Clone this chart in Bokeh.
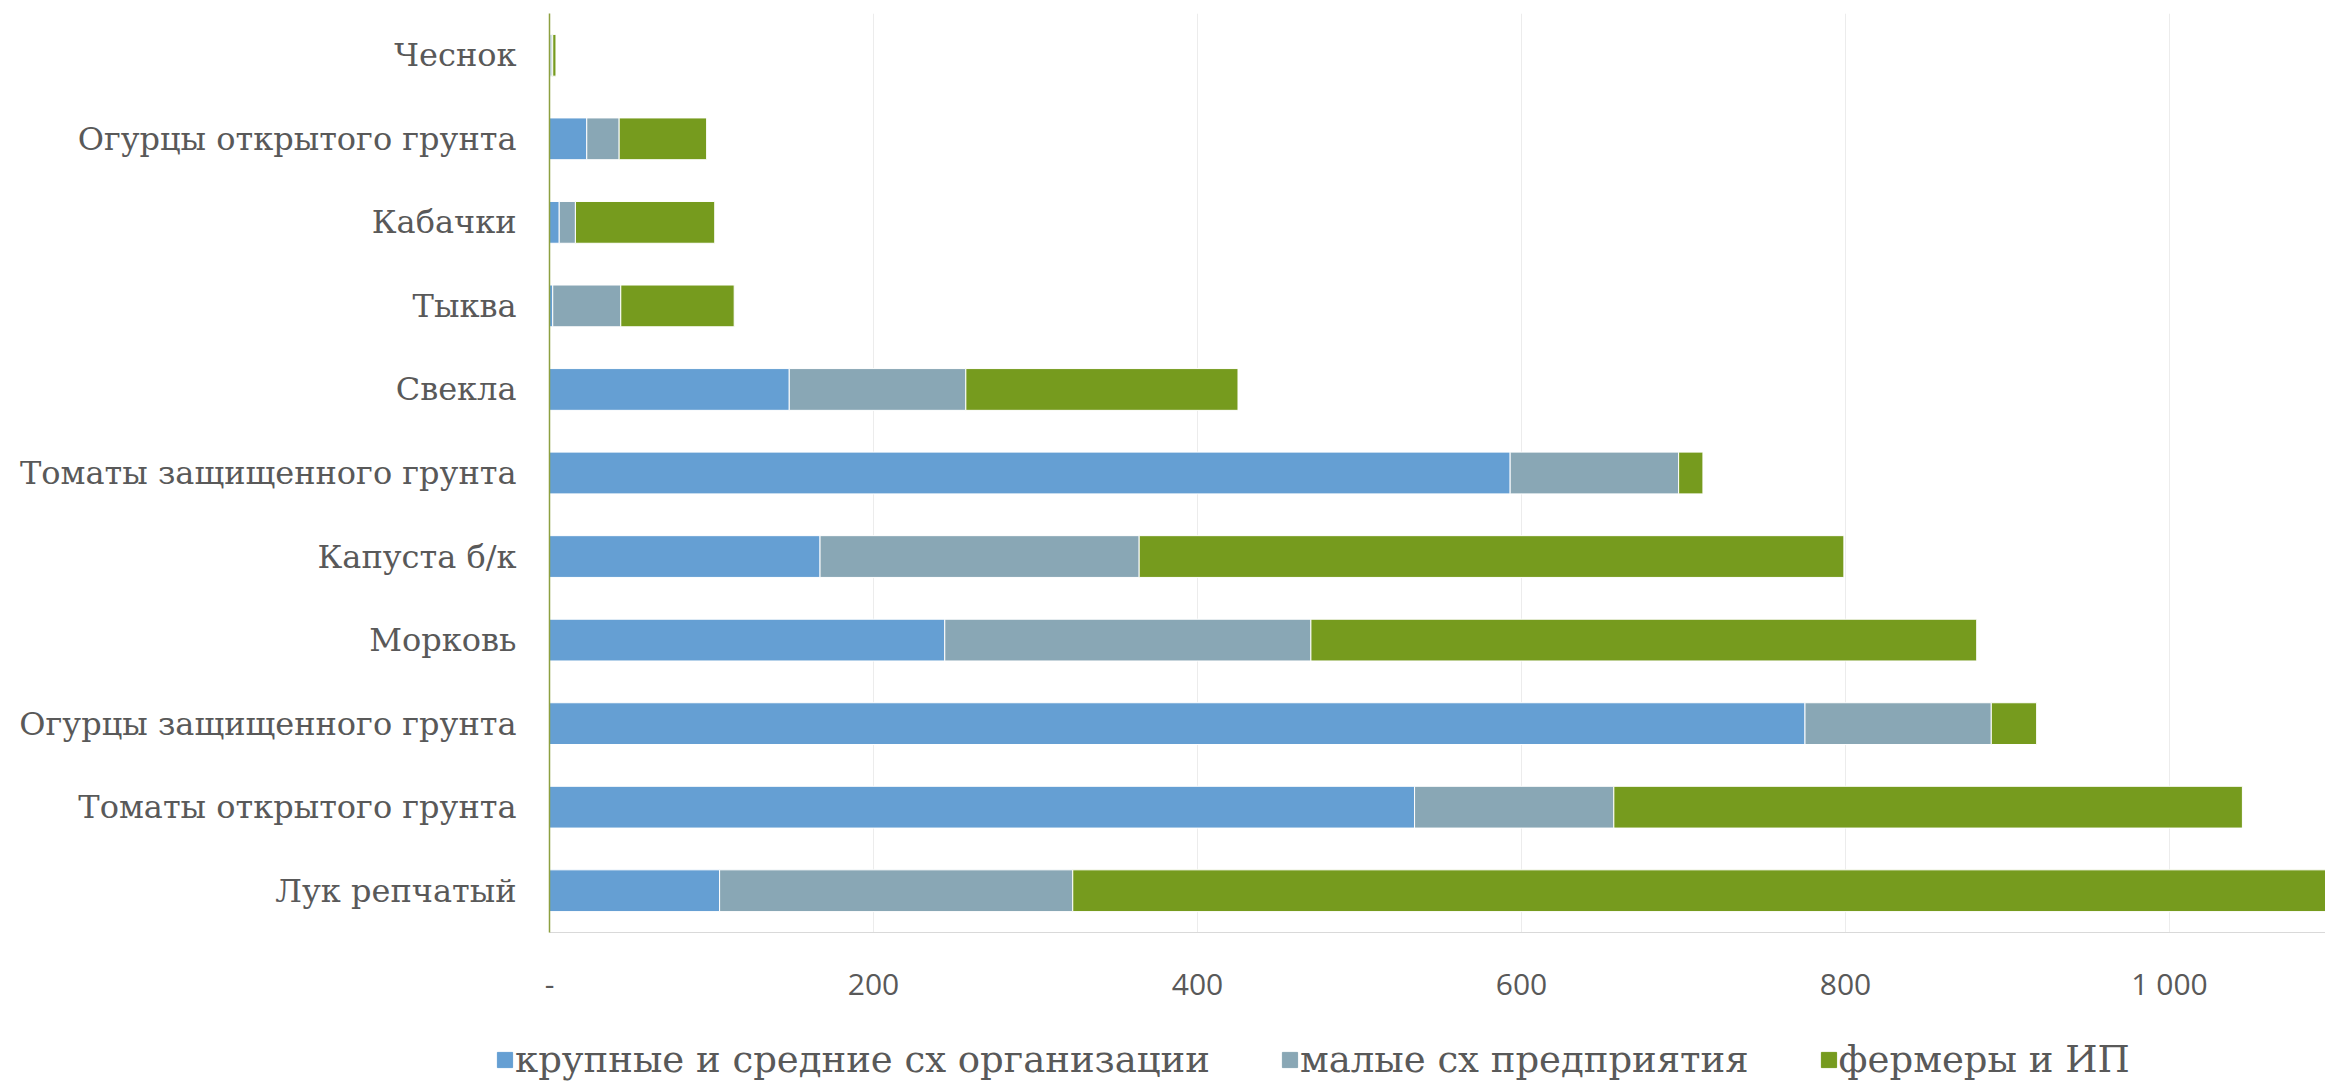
from bokeh.plotting import figure
from bokeh.layouts import column
from bokeh.models import (ColumnDataSource, FactorRange, Range1d, FixedTicker,
                          Legend, LegendItem)
from bokeh.embed import file_html
from bokeh.resources import INLINE

# ---- data ----
categories = ["Чеснок", "Огурцы открытого грунта", "Кабачки", "Тыква", "Свекла",
              "Томаты защищенного грунта", "Капуста б/к", "Морковь",
              "Огурцы защищенного грунта", "Томаты открытого грунта", "Лук репчатый"]
large_medium = [1, 23, 6, 2, 148, 593, 167, 244, 775, 534, 105]
small_firms = [1, 20, 10, 42, 109, 104, 197, 226, 115, 123, 218]
farmers = [2, 54, 86, 70, 168, 15, 435, 411, 28, 388, 880]

series_keys = ["large", "small", "farm"]
series_labels = ["крупные и средние сх организации", "малые сх предприятия", "фермеры и ИП"]
series_colors = ["#659fd3", "#89a7b5", "#769b1e"]

x_ticks = [0, 200, 400, 600, 800, 1000]
x_tick_labels = {0: "-", 1000: "1 000"}

src = ColumnDataSource(dict(cat=categories, large=large_medium,
                            small=small_firms, farm=farmers))

p = figure(width=2325, height=1017,
           y_range=FactorRange(factors=categories[::-1]),
           x_range=Range1d(0, 1096.3),
           output_backend="svg", toolbar_location=None,
           min_border_left=549, min_border_right=0, min_border_top=13,
           min_border_bottom=85)
p.outline_line_color = None
p.background_fill_color = "white"

rs = p.hbar_stack(series_keys, y="cat", height=0.5, color=series_colors,
                  source=src, line_color="white", line_width=1)

# axes
xa = p.xaxis[0]
xa.ticker = FixedTicker(ticks=x_ticks)
xa.major_label_overrides = x_tick_labels
xa.major_label_text_font = "Open Sans"
xa.major_label_text_font_size = "30px"
xa.major_label_text_color = "#595959"
xa.axis_line_color = "#d9d9d9"
xa.major_tick_line_color = None
xa.minor_tick_line_color = None
xa.major_label_standoff = 24

ya = p.yaxis[0]
ya.major_label_text_font = "DejaVu Serif"
ya.major_label_text_font_size = "32px"
ya.major_label_text_color = "#595959"
ya.axis_line_color = "#8da040"
ya.axis_line_width = 1.5
ya.major_tick_line_color = None
ya.minor_tick_line_color = None
ya.major_label_standoff = 27

p.xgrid.grid_line_color = "#ececec"
p.ygrid.grid_line_color = None

# ---- legend strip (separate figure below the chart) ----
lg = figure(width=2325, height=64, x_range=Range1d(0, 1), y_range=Range1d(0, 1),
            x_axis_type=None, y_axis_type=None, output_backend="svg",
            toolbar_location=None, min_border=0)
if "frame_align" in lg.properties():
    lg.frame_align = False
lg.outline_line_color = None
lg.xgrid.grid_line_color = None
lg.ygrid.grid_line_color = None
# proxy glyphs kept outside the visible range, only used to draw legend swatches
swatches = [lg.hbar(y=[-5], right=[0.1], height=0.5, color=c) for c in series_colors]

legend = Legend(items=[LegendItem(label=lab, renderers=[r]) for lab, r in zip(series_labels, swatches)],
                orientation="horizontal", location=(495, 0),
                glyph_width=19, glyph_height=19, label_standoff=1, spacing=70,
                padding=0, margin=0, border_line_color=None, background_fill_alpha=0,
                label_text_font="DejaVu Serif", label_text_font_size="37px",
                label_text_color="#595959")
lg.add_layout(legend, "center")

layout = column(p, lg, spacing=0)
open("out.html", "w").write(file_html(layout, INLINE))
